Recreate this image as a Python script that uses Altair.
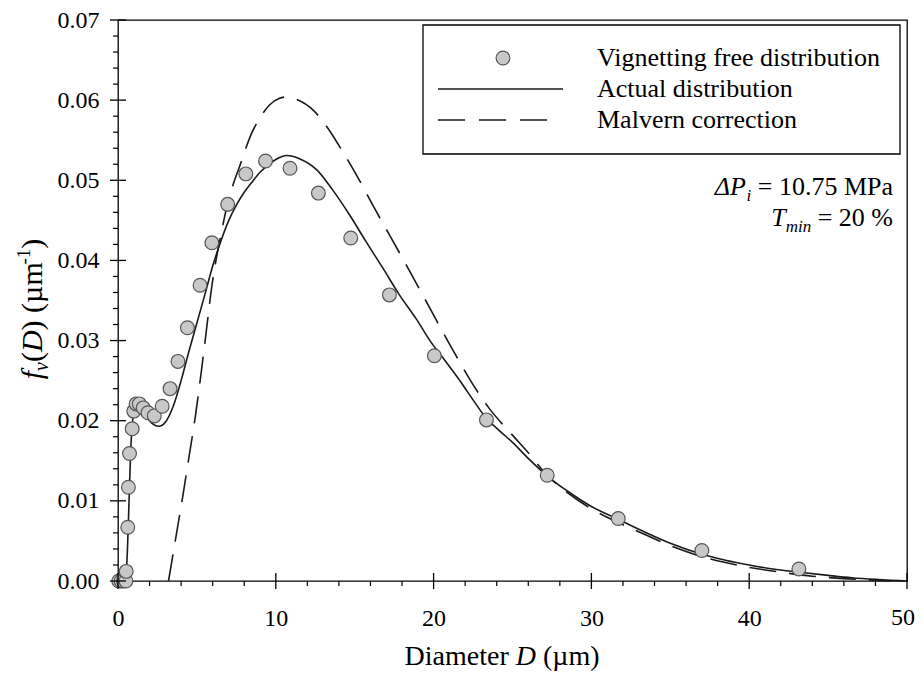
import altair as alt
import pandas as pd

# ---------------- data ----------------
pts_x = [0.05, 0.2, 0.35, 0.5, 0.52, 0.62, 0.66, 0.73, 0.9, 1.0, 1.15, 1.35, 1.6, 1.9, 2.3,
         2.8, 3.3, 3.8, 4.4, 5.2, 5.95, 6.95, 8.1, 9.35, 10.9, 12.7, 14.75, 17.2, 20.05,
         23.35, 27.2, 31.7, 37.0, 43.15]
pts_y = [0.0, 0.0, 0.0, 0.0, 0.0012, 0.0067, 0.0117, 0.0159, 0.019, 0.0212, 0.0221, 0.0221,
         0.0216, 0.021, 0.0206, 0.0218, 0.0240, 0.0274, 0.0316, 0.0369, 0.0422, 0.0470,
         0.0508, 0.0524, 0.0515, 0.0484, 0.0428, 0.0357, 0.0281, 0.0201, 0.0132, 0.0078,
         0.0038, 0.0015]

act_x = [0.4, 0.5, 0.6, 0.7, 0.8, 0.9, 1.0, 1.2, 1.5, 1.8, 2.2, 2.6, 3.0, 3.5, 4.0, 4.5,
         5.0, 5.5, 6.0, 6.5, 7.0, 7.5, 8.0, 8.5, 9.0, 9.5, 10.0, 10.7, 11.5, 12.6, 13.6,
         14.7, 15.7, 16.8, 17.8, 18.9, 19.8, 20.8, 21.7, 22.5, 23.3, 24.2, 25.0, 26.0,
         27.2, 28.5, 30.0, 31.8, 33.5, 35.0, 36.9, 38.5, 40.0, 41.5, 43.2, 45.0, 46.5,
         48.0, 49.0, 50.0]
act_y = [0.0, 0.0005, 0.004, 0.010, 0.016, 0.0195, 0.0208, 0.0215, 0.0213, 0.0205, 0.0196,
         0.0193, 0.0198, 0.0218, 0.0250, 0.0287, 0.0322, 0.0357, 0.0393, 0.0423, 0.0449,
         0.0469, 0.0485, 0.0498, 0.0510, 0.0519, 0.0526, 0.0531, 0.0527, 0.0513, 0.0488,
         0.0456, 0.0424, 0.0390, 0.0358, 0.0327, 0.0299, 0.0273, 0.0249, 0.0226, 0.0204,
         0.0187, 0.0173, 0.0153, 0.0131, 0.0112, 0.0093, 0.0076, 0.0060, 0.0047, 0.0034,
         0.0026, 0.0020, 0.0015, 0.0011, 0.0007, 0.0004, 0.0002, 0.0001, 0.0]

mal_x = [3.2, 3.5, 3.8, 4.1, 4.5, 4.9, 5.4, 6.0, 6.5, 6.9, 7.3, 7.7, 8.1, 8.5, 9.0, 9.6,
         10.2, 10.7, 11.3, 12.4, 13.3, 14.2, 15.3, 16.2, 17.2, 18.5, 19.5, 20.6, 21.6,
         22.5, 23.5, 25.0, 26.0, 27.2, 28.5, 30.0, 31.8, 33.5, 35.0, 36.9, 38.5, 40.0,
         42.0, 44.0, 46.0, 48.0, 49.0]
mal_y = [0.0, 0.0035, 0.0070, 0.0105, 0.0155, 0.0205, 0.0280, 0.0375, 0.0430, 0.0467,
         0.0495, 0.0517, 0.0540, 0.0560, 0.0578, 0.0594, 0.0602, 0.0604, 0.0601, 0.0587,
         0.0565, 0.0537, 0.0500, 0.0467, 0.0432, 0.0386, 0.0350, 0.0310, 0.0275, 0.0245,
         0.0216, 0.0182, 0.0160, 0.0132, 0.0110, 0.0090, 0.0072, 0.0057, 0.0044, 0.0031,
         0.0023, 0.0017, 0.0011, 0.0006, 0.0003, 0.0001, 0.0]

x_major = [0, 10, 20, 30, 40, 50]
x_minor = [v for v in range(2, 50, 2) if v % 10 != 0]
y_major = [0.0, 0.01, 0.02, 0.03, 0.04, 0.05, 0.06, 0.07]
y_minor = [round(i * 0.002, 3) for i in range(1, 35) if i % 5 != 0]

legend_labels = ["Vignetting free distribution", "Actual distribution", "Malvern correction"]

# ---------------- layout ----------------
W, H = 789, 561
FONT = "Liberation Serif"
TICK_FS = 24
TITLE_FS = 28
TXT_FS = 26

REG = {' ': 250, '(': 333, ')': 333, 'µ': 500, 'm': 778, 'D': 722, 'i': 278,
       'a': 444, 'e': 444, 't': 278, 'r': 333, '.': 250, '=': 564, 'M': 889, 'P': 556,
       '%': 833, '-': 333, '1': 500, '0': 500, '2': 500, '5': 500, '7': 500}
ITA = {'f': 278, 'v': 444, 'D': 722, 'P': 611, 'Δ': 612, 'i': 278, 'T': 556, 'm': 722,
       'n': 500}


def tw(s, italic, size):
    tab = ITA if italic else REG
    return sum(tab.get(c, 500) for c in s) * size / 1000.0


xs = alt.Scale(domain=[0, 50], nice=False, zero=False)
ys = alt.Scale(domain=[0, 0.07], nice=False)

one = pd.DataFrame({"a": [0]})

x_axis = alt.Axis(values=x_major[:-1], format="d", ticks=False, domain=False, grid=False,
                  labelFont=FONT, labelFontSize=TICK_FS, labelColor="black",
                  labelPadding=25, title=None, labelFlush=False)
y_axis = alt.Axis(values=y_major, format=".2f", ticks=False, domain=False, grid=False,
                  labelFont=FONT, labelFontSize=TICK_FS, labelColor="black",
                  labelPadding=19, title=None, labelFlush=False)

df_pts = pd.DataFrame({"x": pts_x, "y": pts_y})
df_act = pd.DataFrame({"x": act_x, "y": act_y})
df_mal = pd.DataFrame({"x": mal_x, "y": mal_y})

solid = alt.Chart(df_act).mark_line(color="#1a1a1a", strokeWidth=1.6, interpolate="monotone").encode(
    x=alt.X("x:Q", scale=xs, axis=x_axis), y=alt.Y("y:Q", scale=ys, axis=y_axis))
dashed = alt.Chart(df_mal).mark_line(color="#1a1a1a", strokeWidth=1.6, interpolate="monotone",
                                     strokeDash=[27, 13]).encode(
    x=alt.X("x:Q", scale=xs), y=alt.Y("y:Q", scale=ys))
points = alt.Chart(df_pts).mark_point(shape="circle", filled=True, fill="#c8c8c8",
                                      stroke="#555555", strokeWidth=1.2, size=190,
                                      opacity=1).encode(
    x=alt.X("x:Q", scale=xs), y=alt.Y("y:Q", scale=ys))

# last x tick label, kept inside the page edge
last_lab = alt.Chart(pd.DataFrame({"x": x_major[-1:]})).mark_text(
    font=FONT, fontSize=TICK_FS, align="right", baseline="middle", color="black", dx=8).encode(
    x=alt.X("x:Q", scale=xs), y=alt.value(H + 37), text=alt.Text("x:Q", format="d"))

# axis ticks
xmaj = alt.Chart(pd.DataFrame({"x": x_major})).mark_rule(color="black", strokeWidth=1.3).encode(
    x=alt.X("x:Q", scale=xs), y=alt.value(H - 8), y2=alt.value(H + 8))
xmin = alt.Chart(pd.DataFrame({"x": x_minor})).mark_rule(color="black", strokeWidth=1.2).encode(
    x=alt.X("x:Q", scale=xs), y=alt.value(H), y2=alt.value(H + 5))
ymaj = alt.Chart(pd.DataFrame({"y": y_major})).mark_rule(color="black", strokeWidth=1.3).encode(
    y=alt.Y("y:Q", scale=ys), x=alt.value(-8), x2=alt.value(8))
ymin = alt.Chart(pd.DataFrame({"y": y_minor})).mark_rule(color="black", strokeWidth=1.2).encode(
    y=alt.Y("y:Q", scale=ys), x=alt.value(-5), x2=alt.value(0))

layers = [solid, dashed, points, last_lab, xmaj, xmin, ymaj, ymin]

# legend box
LX0, LX1, LY0, LY1 = 305, 782, 5, 134
layers.append(alt.Chart(one).mark_rect(fill="white", stroke="black", strokeWidth=1.3).encode(
    x=alt.value(LX0), x2=alt.value(LX1), y=alt.value(LY0), y2=alt.value(LY1)))
row_y = [38, 69, 100]
layers.append(alt.Chart(one).mark_point(shape="circle", filled=True, fill="#c8c8c8",
                                        stroke="#555555", strokeWidth=1.2, size=190,
                                        opacity=1).encode(
    x=alt.value(385), y=alt.value(row_y[0])))
layers.append(alt.Chart(one).mark_rule(color="#1a1a1a", strokeWidth=1.6).encode(
    x=alt.value(320), x2=alt.value(445), y=alt.value(row_y[1])))
layers.append(alt.Chart(one).mark_rule(color="#1a1a1a", strokeWidth=1.6,
                                       strokeDash=[27, 14]).encode(
    x=alt.value(320), x2=alt.value(440), y=alt.value(row_y[2])))
for lab, yy in zip(legend_labels, row_y):
    layers.append(alt.Chart(one).mark_text(text=lab, font=FONT, fontSize=TXT_FS, align="left",
                                           baseline="middle", color="black").encode(
        x=alt.value(479), y=alt.value(yy)))


def seg_mark(s, it, sz, **kw):
    return alt.Chart(one).mark_text(text=s, font=FONT, fontSize=sz, align="left",
                                    baseline="alphabetic", color="black",
                                    fontStyle="italic" if it else "normal", **kw)


def segs_h(segs, x_right, base_y):
    """right aligned run of (text, italic, size, dy) segments; leading spaces become gaps"""
    total = sum(tw(s, it, sz) for s, it, sz, dy in segs)
    x = x_right - total
    out = []
    for s, it, sz, dy in segs:
        lead = len(s) - len(s.lstrip(" "))
        core = s.lstrip(" ")
        xx = x + tw(" " * lead, False, sz)
        out.append(seg_mark(core, it, sz).encode(x=alt.value(xx), y=alt.value(base_y + dy)))
        x += tw(s, it, sz)
    return out


SUB = 17
# annotations
layers += segs_h([("ΔP", True, TXT_FS, 0), ("i", True, SUB, 6), (" = 10.75 MPa", False, TXT_FS, 0)],
                 775, 175)
layers += segs_h([("T", True, TXT_FS, 0), ("min", True, SUB, 6), (" = 20 %", False, TXT_FS, 0)],
                 775, 206)

# x title
xt = [("Diameter ", False, TITLE_FS, 0), ("D", True, TITLE_FS, 0), (" (µm)", False, TITLE_FS, 0)]
xtot = sum(tw(s, it, sz) for s, it, sz, dy in xt)
layers += segs_h(xt, 383 + xtot / 2, 645)

# y title (rotated)
YFS = 30
yt = [("f", True, YFS, 0), ("v", True, 20, 6), ("(", False, YFS, 0),
      ("D", True, YFS, 0), (") (µm", False, YFS, 0), ("-1", False, 19, -12),
      (")", False, YFS, 0)]
ytot = sum(tw(s, it, sz) for s, it, sz, dy in yt)
ypos = 289 + ytot / 2
YBASE = -76
for s, it, sz, dy in yt:
    layers.append(seg_mark(s, it, sz, angle=270).encode(
        x=alt.value(YBASE + dy), y=alt.value(ypos)))
    ypos -= tw(s, it, sz)

chart = alt.layer(*layers).properties(
    width=W, height=H,
    autosize=alt.AutoSizeParams(type="none"),
    padding={"left": 110, "top": 12, "right": 8, "bottom": 96},
).configure_view(stroke="black", strokeWidth=1.3)

chart.save("out.html", embed_options={"renderer": "svg", "actions": False})
